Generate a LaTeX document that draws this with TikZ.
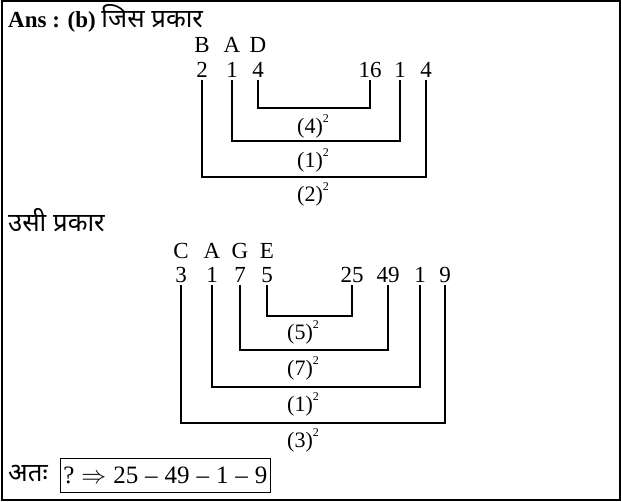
\documentclass[tikz,border=0pt]{standalone}
\usepackage{fontspec}
\setmainfont{Liberation Serif}
\newfontfamily\hindi[Script=Devanagari,Scale=1.12]{Noto Sans}
\newcommand{\sq}[1]{(#1)\raisebox{0.5em}{\fontsize{12}{12}\selectfont 2}}
\begin{document}
\begin{tikzpicture}[
  x=1pt,y=-1pt,
  num/.style={inner sep=2.5pt,font=\fontsize{23}{23}\selectfont},
  lbl/.style={inner sep=0pt,font=\fontsize{22}{22}\selectfont},
  txt/.style={anchor=west,inner sep=0pt,font=\fontsize{23}{23}\selectfont},
  brk/.style={line width=1.6pt}
]
  \useasboundingbox (0,0) rectangle (621,502);
  \draw[line width=1.5pt] (2,1) rectangle (620,500);

  \node[txt] (ans) at (8,18) {\textbf{Ans : (b)} {\hindi जिस प्रकार}};

  % first example
  \node[num] (lB) at (202,45) {B};
  \node[num] (lA) at (232,45) {A};
  \node[num] (lD) at (258,45) {D};
  \node[num] (a2)  at (202,70) {2};
  \node[num] (a1)  at (232,70) {1};
  \node[num] (a4)  at (258,70) {4};
  \node[num] (a16) at (370,70) {16};
  \node[num] (b1)  at (400,70) {1};
  \node[num] (b4)  at (426,70) {4};

  \draw[brk] (a4.south) -- (a4.south |- 0,108) -| (a16.south);
  \draw[brk] (a1.south) -- (a1.south |- 0,141) -| (b1.south);
  \draw[brk] (a2.south) -- (a2.south |- 0,177) -| (b4.south);

  \node[lbl] (sqa4) at (313,126) {\sq{4}};
  \node[lbl] (sqa1) at (313,160) {\sq{1}};
  \node[lbl] (sqa2) at (313,194) {\sq{2}};

  \node[txt] (same) at (8,220) {\hindi उसी प्रकार};

  % second example
  \node[num] (lC) at (181,251) {C};
  \node[num] (lA2) at (212,251) {A};
  \node[num] (lG) at (240,251) {G};
  \node[num] (lE) at (267,251) {E};
  \node[num] (c3)  at (181,275) {3};
  \node[num] (c1)  at (212,275) {1};
  \node[num] (c7)  at (240,275) {7};
  \node[num] (c5)  at (267,275) {5};
  \node[num] (c25) at (352,275) {25};
  \node[num] (c49) at (388,275) {49};
  \node[num] (d1)  at (420,275) {1};
  \node[num] (d9)  at (445,275) {9};

  \draw[brk] (c5.south) -- (c5.south |- 0,316) -| (c25.south);
  \draw[brk] (c7.south) -- (c7.south |- 0,350) -| (c49.south);
  \draw[brk] (c1.south) -- (c1.south |- 0,387) -| (d1.south);
  \draw[brk] (c3.south) -- (c3.south |- 0,423) -| (d9.south);

  \node[lbl] (sqc5) at (303,332) {\sq{5}};
  \node[lbl] (sqc7) at (303,368) {\sq{7}};
  \node[lbl] (sqc1) at (303,404) {\sq{1}};
  \node[lbl] (sqc3) at (303,440) {\sq{3}};

  \node[txt] (hence) at (8,474) {\hindi अतः};
  \node[draw,line width=0.8pt,anchor=west,inner xsep=3pt,minimum height=34pt,
        font=\fontsize{25}{25}\selectfont] (res) at (60,475)
        {?\;$\Rightarrow$\;25\;–\;49\;–\;1\;–\;9};
\end{tikzpicture}
\end{document}
